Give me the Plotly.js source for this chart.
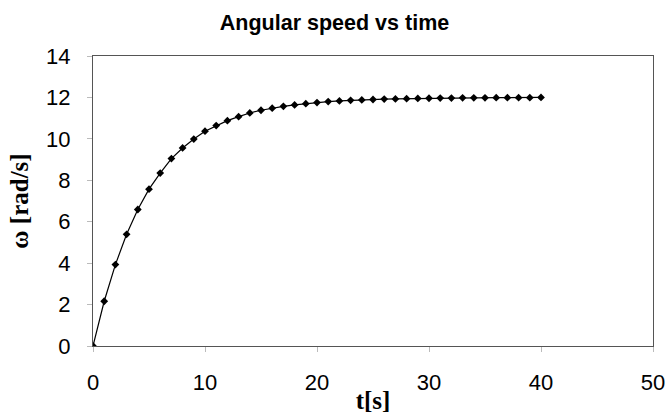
<!DOCTYPE html>
<html>
<head>
<meta charset="utf-8">
<script src="https://cdn.plot.ly/plotly-3.0.1.min.js"></script>
<style>html,body{margin:0;padding:0;background:#fff;}#chart{width:669px;height:414px;}</style>
</head>
<body>
<div id="chart"></div>
<script>
const timeS = [0,1,2,3,4,5,6,7,8,9,10,11,12,13,14,15,16,17,18,19,20,21,22,23,24,25,26,27,28,29,30,31,32,33,34,35,36,37,38,39,40];
const omega = [0,2.16,3.93,5.39,6.59,7.57,8.35,9.05,9.56,9.99,10.37,10.64,10.88,11.07,11.25,11.38,11.48,11.57,11.64,11.70,11.75,11.80,11.83,11.86,11.88,11.90,11.92,11.93,11.94,11.95,11.96,11.97,11.97,11.98,11.98,11.98,11.99,11.99,11.99,11.99,12.0];
const xTicks = [0,10,20,30,40,50];
const yTicks = [0,2,4,6,8,10,12,14];

const tickFont = {family: 'Liberation Sans, Arial, sans-serif', size: 22, color: '#000'};
const titleFont = {family: 'Liberation Serif, Times New Roman, serif', size: 25, color: '#000', weight: 'bold'};

Plotly.newPlot('chart', [{
  x: timeS, y: omega, type: 'scatter', mode: 'lines+markers',
  line: {color: '#000', width: 1.2},
  marker: {symbol: 'diamond', size: 6, color: '#000'},
  showlegend: false
}], {
  width: 669, height: 414,
  paper_bgcolor: '#fff', plot_bgcolor: '#fff',
  margin: {l: 93, r: 16, t: 56, b: 68},
  title: {text: '<b>Angular speed vs time</b>', font: {family: 'Liberation Sans, Arial, sans-serif', size: 21.5, color: '#000'},
          x: 0.5, xref: 'container', xanchor: 'center', y: 1 - 22/414, yref: 'container', yanchor: 'middle'},
  xaxis: {range: [0, 50], tickvals: xTicks, ticks: 'outside', ticklen: 5, tickcolor: '#bbb',
          showgrid: false, zeroline: false, showline: true, linecolor: '#555', linewidth: 1, mirror: true,
          tickfont: tickFont, ticklabelstandoff: 12,
          title: {text: 't[s]', font: titleFont, standoff: 0}},
  yaxis: {range: [0, 14], tickvals: yTicks, ticks: 'outside', ticklen: 5, tickcolor: '#bbb',
          showgrid: false, zeroline: false, showline: true, linecolor: '#555', linewidth: 1, mirror: true,
          tickfont: tickFont, ticklabelstandoff: 12,
          title: {text: 'ω [rad/s]', font: titleFont, standoff: 10}}
}, {displayModeBar: false, staticPlot: true});
</script>
</body>
</html>
